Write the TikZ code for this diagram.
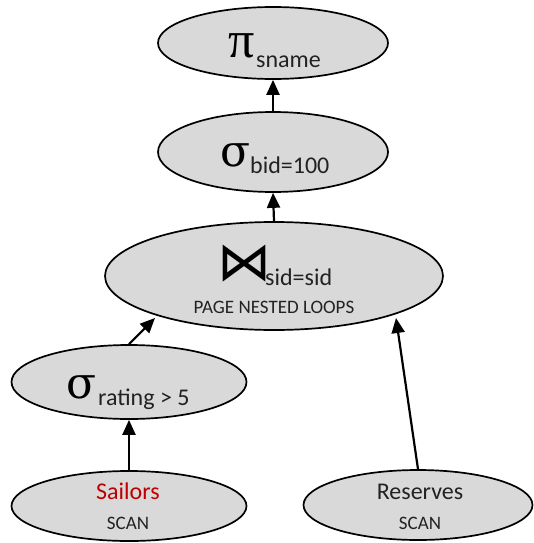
\documentclass[tikz,border=0pt]{standalone}
\usepackage{fontspec}
\setmainfont{Carlito}
\newfontfamily\greekfont{DejaVu Serif}
\newfontfamily\pifont{Liberation Serif}
\newfontfamily\symfont{DejaVu Sans}
\usetikzlibrary{shapes.geometric,arrows.meta}
\definecolor{opfill}{HTML}{D9D9D9}
\definecolor{relred}{HTML}{C00000}
\definecolor{ink}{HTML}{222222}
\tikzset{
  opnode/.style={ellipse, draw=black, line width=1.7pt, fill=opfill, inner sep=0pt},
  flow/.style={line width=2.2pt, -{Triangle[width=13pt,length=15pt]}},
  lbl/.style={inner sep=0pt, anchor=base, text=ink},
  grk/.style={lbl, anchor=base west, text=black, font=\greekfont\fontsize{44}{44}\selectfont},
  sub/.style={lbl, anchor=base west, font=\fontsize{24}{24}\selectfont},
  relname/.style={lbl, font=\fontsize{24}{24}\selectfont},
  algo/.style={lbl, font=\fontsize{19}{19}\selectfont}
}
\begin{document}
\begin{tikzpicture}[x=1pt, y=-1pt]
\useasboundingbox (0,0) rectangle (533,543);

% operator ellipses
\node[opnode, minimum width=230pt, minimum height=72pt] (proj) at (273,43) {};
\node[opnode, minimum width=230pt, minimum height=80pt] (selbid) at (273,152) {};
\node[opnode, minimum width=338pt, minimum height=108pt] (join) at (274,276) {};
\node[opnode, minimum width=235pt, minimum height=74pt] (selrat) at (129,382) {};
\node[opnode, minimum width=235pt, minimum height=70pt] (sailors) at (129,506) {};
\node[opnode, minimum width=229pt, minimum height=70pt] (reserves) at (418,505) {};

% projection label
\node[grk, font=\pifont\fontsize{52}{52}\selectfont] (pisym) at (228,58) {π};
\node[sub] (pisub) at (256,67) {sname};

% selection on bid
\node[grk] (sgbid) at (220,166) {σ};
\node[sub] (sgbidsub) at (250,173) {bid=100};

% join label
\node[lbl, anchor=base west, text=black, font=\symfont\fontsize{54}{54}\selectfont] (bowtie) at (217,280) {⋈};
\node[sub] (joinsub) at (265,285) {sid=sid};
\node[algo] (joinalg) at (274,313) {PAGE NESTED LOOPS};

% selection on rating
\node[grk] (sgrat) at (66,398) {σ};
\node[sub] (sgratsub) at (98,405) {rating > 5};

% base relations
\node[relname, text=relred] (sname) at (128,499) {Sailors};
\node[algo] (sscan) at (128,529) {SCAN};
\node[relname] (rname) at (420,499) {Reserves};
\node[algo] (rscan) at (420,529) {SCAN};

% data flow
\draw[flow] (selbid.north) -- (proj.south);
\draw[flow] (join.north) -- (selbid.south);
\draw[flow] (sailors.north) -- (selrat.south);
\coordinate (joinL) at (155,318);
\coordinate (joinR) at (396,318);
\draw[flow] (selrat.north) -- (joinL);
\draw[flow] (reserves.north) -- (joinR);
\end{tikzpicture}
\end{document}
